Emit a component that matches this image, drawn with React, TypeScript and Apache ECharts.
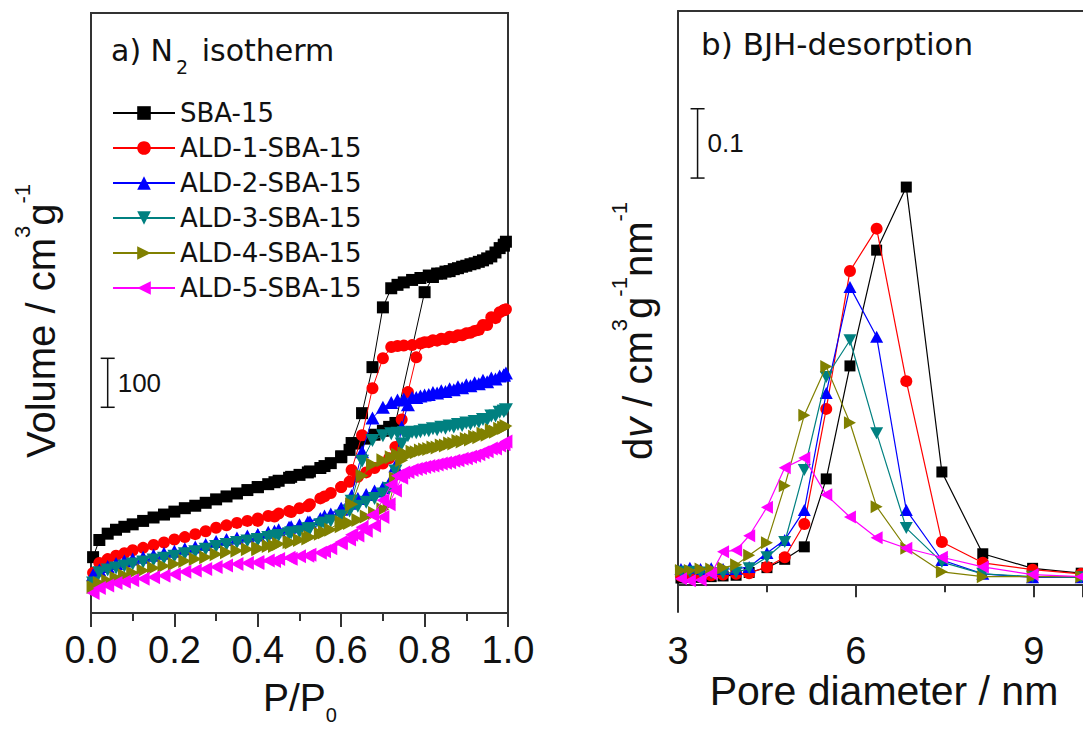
import React, { useEffect, useRef } from 'react';
import * as echarts from 'echarts';

const FONT = '"Liberation Sans", Arial, Helvetica, sans-serif';
const FONT_WIDE = '"DejaVu Sans", Verdana, sans-serif';
const TEXT_COLOR = '#111111';
const AXIS_COLOR = '#333333';

const SERIES_NAMES = ['SBA-15', 'ALD-1-SBA-15', 'ALD-2-SBA-15', 'ALD-3-SBA-15', 'ALD-4-SBA-15', 'ALD-5-SBA-15'];
const COLORS = ['#000000', '#ff0000', '#0000ff', '#008080', '#808000', '#ff00ff'];
const SYMBOLS = [
  'rect',
  'circle',
  'path://M5,0L10,9L0,9Z',
  'path://M0,0L10,0L5,9Z',
  'path://M0,0L9,5L0,10Z',
  'path://M9,0L0,5L9,10Z',
];
const SYMBOL_SIZES_A: any[] = [12, 12, [14, 13], [14, 13], [13, 14], [13, 14]];
const SYMBOL_SIZES_B: any[] = [11, 12, [13, 12], [13, 12], [12, 13], [12, 13]];

// ---- Panel a: N2 isotherms (P/P0, cm3/g) ----
const P_ADS = [0.005, 0.02, 0.04, 0.06, 0.08, 0.10, 0.125, 0.15, 0.175, 0.20, 0.225, 0.25, 0.275, 0.30, 0.325, 0.35, 0.375, 0.40, 0.425, 0.45, 0.475, 0.50, 0.525, 0.55, 0.575, 0.60, 0.62, 0.64, 0.66, 0.68, 0.70, 0.715, 0.73, 0.745, 0.76, 0.78, 0.80, 0.82, 0.84, 0.86, 0.88, 0.90, 0.92, 0.94, 0.96, 0.98, 0.99, 0.995];
const P_DES = [0.99, 0.97, 0.95, 0.93, 0.91, 0.89, 0.87, 0.85, 0.83, 0.81, 0.79, 0.77, 0.75, 0.735, 0.72, 0.70, 0.675, 0.65, 0.625, 0.60, 0.56, 0.52, 0.48, 0.44, 0.40];

const ADS_SBA15 = [114, 149, 162, 170, 176, 181, 188, 195, 201, 207, 214, 219, 225, 232, 238, 244, 251, 257, 263, 270, 276, 282, 289, 296, 306, 318, 333, 346, 356, 364, 372, 380, 388, null, null, null, 655, 686, 693, 698, 704, 709, 714, 720, 728, 745, 752, 758];
const DES_SBA15 = [750, 736, 724, 717, 712, 707, 702, 697, 693, 689, 684, 680, 675, 670, 663, 624, 502, 408, 347, 320, 300, 287, 278, 267, 257];
const ADS_ALD1 = [82, 102, 110, 117, 122, 128, 133, 139, 144, 150, 155, 161, 167, 174, 179, 184, 188, 193, 198, 203, 208, 214, 222, 234, 245, 257, 268, 278, 287, 296, 305, 316, 339, 395, 451, 522, 553, 557, 560, 564, 567, 571, 576, 588, 604, 614, 618, 620];
const DES_ALD1 = [618, 602, 588, 578, 572, 567, 563, 559, 556, 553, 550, 547, 546, 545, 543, 520, 459, 363, 292, 257, 238, 218, 206, 197, 188];
const ADS_ALD2 = [78, 88, 95, 101, 106, 110, 114, 118, 122, 126, 131, 135, 140, 146, 150, 153, 157, 160, 165, 170, 175, 180, 186, 193, 202, 212, 224, 234, 242, 249, 256, 265, 300, 380, 425, 440, 445, 450, 454, 458, 462, 466, 470, 475, 480, 484, 486, 490];
const DES_ALD2 = [486, 478, 472, 468, 464, 460, 456, 452, 449, 446, 443, 440, 437, 435, 430, 420, 398, 329, 240, 214, 198, 186, 176, 167, 160];
const ADS_ALD3 = [61, 82, 88, 92, 96, 100, 104, 108, 112, 116, 121, 125, 130, 136, 140, 144, 147, 150, 154, 158, 162, 166, 172, 180, 188, 196, 208, 218, 226, 234, 243, 254, 290, 345, 362, 368, 373, 376, 379, 382, 385, 388, 391, 395, 402, 410, 412, 415];
const DES_ALD3 = [412, 402, 394, 390, 386, 383, 380, 377, 374, 372, 370, 369, 368, 367, 366, 362, 352, 310, 228, 198, 184, 172, 164, 156, 149];
const ADS_ALD4 = [53, 61, 66, 72, 77, 82, 87, 92, 96, 100, 106, 110, 114, 120, 124, 127, 130, 133, 137, 141, 145, 149, 155, 162, 170, 177, 184, 190, 197, 204, 212, 222, 275, 312, 322, 328, 334, 338, 342, 346, 351, 355, 360, 366, 373, 376, 378, 382];
const DES_ALD4 = [378, 370, 364, 359, 354, 350, 346, 342, 338, 335, 332, 329, 326, 323, 318, 312, 303, 280, 222, 186, 165, 152, 144, 137, 130];
const ADS_ALD5 = [41, 51, 56, 61, 64, 67, 70, 73, 76, 79, 84, 87, 90, 94, 97, 100, 102, 104, 107, 110, 113, 116, 119, 123, 132, 142, 150, 158, 168, 178, 196, 222, 250, 276, 288, 294, 298, 301, 305, 308, 312, 316, 321, 328, 336, 342, 345, 350];
const DES_ALD5 = [345, 336, 330, 324, 319, 315, 311, 307, 303, 300, 296, 292, 287, 280, 262, 230, 200, 175, 160, 145, 126, 117, 111, 106, 102];

const ADS_LIST = [ADS_SBA15, ADS_ALD1, ADS_ALD2, ADS_ALD3, ADS_ALD4, ADS_ALD5];
const DES_LIST = [DES_SBA15, DES_ALD1, DES_ALD2, DES_ALD3, DES_ALD4, DES_ALD5];

// ---- Panel b: BJH desorption (nm, cm3 g-1 nm-1) ----
const D_GRID = [3.05, 3.2, 3.38, 3.56, 3.76, 3.98, 4.2, 4.5, 4.8, 5.13, 5.5, 5.9, 6.35, 6.85, 7.45, 8.14, 8.98, 9.8, 11.0];
const DV_SBA15 = [0.009, 0.010, 0.010, 0.011, 0.012, 0.013, 0.017, 0.024, 0.036, 0.054, 0.152, 0.315, 0.482, 0.573, 0.162, 0.044, 0.023, 0.016, 0.013];
const DV_ALD1 = [0.012, 0.012, 0.013, 0.013, 0.014, 0.015, 0.016, 0.025, 0.039, 0.087, 0.253, 0.452, 0.513, 0.293, 0.061, 0.031, 0.021, 0.015, 0.012];
const DV_ALD2 = [0.022, 0.024, 0.022, 0.023, 0.022, 0.022, 0.025, 0.045, 0.064, 0.107, 0.276, 0.429, 0.357, 0.107, 0.035, 0.015, 0.010, 0.010, 0.010];
const DV_ALD3 = [0.018, 0.018, 0.017, 0.016, 0.016, 0.017, 0.023, 0.039, 0.061, 0.165, 0.299, 0.352, 0.218, 0.081, 0.032, 0.015, 0.011, 0.010, 0.010];
const DV_ALD4 = [0.020, 0.020, 0.022, 0.022, 0.024, 0.028, 0.042, 0.060, 0.142, 0.244, 0.314, 0.233, 0.112, 0.052, 0.018, 0.011, 0.011, 0.011, 0.010];
const DV_ALD5 = [0.008, 0.005, 0.006, 0.015, 0.047, 0.049, 0.070, 0.111, 0.168, 0.182, 0.129, 0.097, 0.067, 0.052, 0.039, 0.025, 0.014, 0.011, 0.010];
const DV_LIST = [DV_SBA15, DV_ALD1, DV_ALD2, DV_ALD3, DV_ALD4, DV_ALD5];

// Scale bars: [x, yStart, yEnd]
const SCALE_A = [0.04, 420, 520];
const SCALE_A_LABEL = '100';
const SCALE_B = [3.33, 0.586, 0.686];
const SCALE_B_LABEL = '0.1';

const pairs = (xs: number[], ys: (number | null)[]) =>
  xs.map((x, i) => [x, ys[i]]).filter((d) => d[1] !== null && d[1] !== undefined);

const scaleBarSeries = (idx: number, bar: number[], label: string, fontSize: number) => ({
  type: 'custom',
  xAxisIndex: idx,
  yAxisIndex: idx,
  silent: true,
  clip: false,
  z: 5,
  data: [bar],
  renderItem: (params: any, api: any) => {
    const p0 = api.coord([api.value(0), api.value(1)]);
    const p1 = api.coord([api.value(0), api.value(2)]);
    const cap = 7;
    const ls = { stroke: '#111', lineWidth: 1.5 };
    return {
      type: 'group',
      children: [
        { type: 'line', shape: { x1: p0[0], y1: p0[1], x2: p1[0], y2: p1[1] }, style: ls },
        { type: 'line', shape: { x1: p0[0] - cap, y1: p0[1], x2: p0[0] + cap, y2: p0[1] }, style: ls },
        { type: 'line', shape: { x1: p1[0] - cap, y1: p1[1], x2: p1[0] + cap, y2: p1[1] }, style: ls },
        {
          type: 'text',
          style: {
            text: label,
            x: p0[0] + 10,
            y: (p0[1] + p1[1]) / 2,
            verticalAlign: 'middle',
            align: 'left',
            fontSize,
            fontFamily: FONT,
            fill: TEXT_COLOR,
          },
        },
      ],
    };
  },
});

export default function App() {
  const ref = useRef<HTMLDivElement>(null);

  useEffect(() => {
    if (!ref.current) return;
    const chart = echarts.init(ref.current, undefined, { renderer: 'svg' });

    const seriesA = SERIES_NAMES.map((name, i) => ({
      name,
      type: 'line',
      xAxisIndex: 0,
      yAxisIndex: 0,
      data: [...pairs(P_ADS, ADS_LIST[i]), ...pairs(P_DES, DES_LIST[i])],
      symbol: SYMBOLS[i],
      symbolSize: SYMBOL_SIZES_A[i],
      showAllSymbol: true,
      color: COLORS[i],
      itemStyle: { color: COLORS[i] },
      lineStyle: { color: COLORS[i], width: 1 },
      z: 2 + i,
    }));

    const seriesB = SERIES_NAMES.map((name, i) => ({
      name,
      type: 'line',
      xAxisIndex: 1,
      yAxisIndex: 1,
      data: pairs(D_GRID, DV_LIST[i]),
      symbol: SYMBOLS[i],
      symbolSize: SYMBOL_SIZES_B[i],
      showAllSymbol: true,
      color: COLORS[i],
      itemStyle: { color: COLORS[i] },
      lineStyle: { color: COLORS[i], width: 1.2 },
      z: 2 + i,
    }));

    const axisLabel = (fmt: (v: number) => string, margin: number, showMax: boolean) => ({
      fontSize: 38,
      fontFamily: FONT,
      color: TEXT_COLOR,
      margin,
      formatter: fmt,
      showMaxLabel: showMax,
    });
    const axisLineStyle = { show: true, lineStyle: { color: AXIS_COLOR, width: 2 } };

    const option: any = {
      animation: false,
      backgroundColor: '#ffffff',
      grid: [
        { left: 91, top: 13, width: 417, height: 600, show: true, borderColor: AXIS_COLOR, borderWidth: 2, backgroundColor: 'transparent', containLabel: false, outerBoundsMode: 'none' },
        { left: 678, top: 11, width: 405, height: 601, show: false, containLabel: false, outerBoundsMode: 'none' },
      ],
      xAxis: [
        {
          type: 'value', gridIndex: 0, min: 0, max: 1, interval: 0.2,
          axisLine: axisLineStyle,
          axisTick: { show: true, inside: false, length: 14, lineStyle: { color: AXIS_COLOR, width: 2 } },
          minorTick: { show: true, splitNumber: 2, length: 8, lineStyle: { color: AXIS_COLOR, width: 2 } },
          splitLine: { show: false },
          axisLabel: axisLabel((v: number) => v.toFixed(1), 18, true),
        },
        {
          type: 'value', gridIndex: 1, min: 3, max: 9.83, interval: 3,
          axisLine: axisLineStyle,
          axisTick: { show: true, inside: false, length: 13, lineStyle: { color: AXIS_COLOR, width: 2 } },
          minorTick: { show: true, splitNumber: 2, length: 8, lineStyle: { color: AXIS_COLOR, width: 2 } },
          splitLine: { show: false },
          axisLabel: axisLabel((v: number) => (Number.isInteger(v) && v % 3 === 0 ? String(v) : ''), 20, false),
        },
        {
          type: 'value', gridIndex: 1, position: 'top', min: 3, max: 9.83,
          axisLine: axisLineStyle,
          axisTick: { show: false }, axisLabel: { show: false }, splitLine: { show: false },
        },
      ],
      yAxis: [
        {
          type: 'value', gridIndex: 0, min: 0, max: 1225,
          axisLine: axisLineStyle,
          axisTick: { show: false }, axisLabel: { show: false }, splitLine: { show: false },
        },
        {
          type: 'value', gridIndex: 1, min: -0.04, max: 0.827,
          axisLine: axisLineStyle,
          axisTick: { show: false }, axisLabel: { show: false }, splitLine: { show: false },
        },
      ],
      legend: {
        data: SERIES_NAMES,
        orient: 'vertical',
        left: 112,
        top: 98,
        padding: 0,
        itemGap: 5,
        itemWidth: 62,
        itemHeight: 17,
        textStyle: { fontSize: 26, lineHeight: 30, fontFamily: FONT_WIDE, color: TEXT_COLOR },
        selectedMode: false,
      },
      graphic: [
        {
          type: 'text', x: 111, y: 50,
          style: {
            text: 'a) N{sub|2} isotherm', fontSize: 30, lineHeight: 52, fontFamily: FONT_WIDE, fill: TEXT_COLOR,
            verticalAlign: 'middle', align: 'left',
            rich: { sub: { fontSize: 19, lineHeight: 16, verticalAlign: 'bottom', fontFamily: FONT_WIDE, fill: TEXT_COLOR, padding: [0, 4, 0, 3] } },
          },
        },
        {
          type: 'text', x: 701, y: 44,
          style: { text: 'b) BJH-desorption', fontSize: 31, fontFamily: FONT_WIDE, fill: TEXT_COLOR, verticalAlign: 'middle', align: 'left' },
        },
        {
          type: 'text', x: 300, y: 697,
          style: {
            text: 'P/P{sub|0}', fontSize: 39, lineHeight: 56, fontFamily: FONT, fill: TEXT_COLOR,
            verticalAlign: 'middle', align: 'center',
            rich: { sub: { fontSize: 20, lineHeight: 16, verticalAlign: 'bottom', fontFamily: FONT, fill: TEXT_COLOR } },
          },
        },
        {
          type: 'text', x: 884, y: 691,
          style: { text: 'Pore diameter / nm', fontSize: 41, fontFamily: FONT, fill: TEXT_COLOR, verticalAlign: 'middle', align: 'center' },
        },
        {
          type: 'text', x: 41, y: 321, rotation: Math.PI / 2,
          style: {
            text: 'Volume / cm{sup|3}g{sup|-1}', fontSize: 40, lineHeight: 60, fontFamily: FONT, fill: TEXT_COLOR,
            verticalAlign: 'middle', align: 'center',
            rich: { sup: { fontSize: 22, lineHeight: 20, verticalAlign: 'top', fontFamily: FONT, fill: TEXT_COLOR } },
          },
        },
        {
          type: 'text', x: 638, y: 331, rotation: Math.PI / 2,
          style: {
            text: 'd{it|v} / cm{sup|3}g{sup|-1}nm{sup|-1}', fontSize: 40, lineHeight: 60, fontFamily: FONT, fill: TEXT_COLOR,
            verticalAlign: 'middle', align: 'center',
            rich: {
              sup: { fontSize: 22, lineHeight: 20, verticalAlign: 'top', fontFamily: FONT, fill: TEXT_COLOR },
              it: { fontSize: 40, lineHeight: 60, fontStyle: 'italic', fontFamily: FONT, fill: TEXT_COLOR },
            },
          },
        },
      ],
      series: [
        ...seriesA,
        ...seriesB,
        scaleBarSeries(0, SCALE_A, SCALE_A_LABEL, 26),
        scaleBarSeries(1, SCALE_B, SCALE_B_LABEL, 26),
      ],
    };

    chart.setOption(option);
    return () => chart.dispose();
  }, []);

  return (
    <div
      ref={ref}
      style={{ position: 'fixed', left: 0, top: 0, width: 1083, height: 730, background: '#fff' }}
    />
  );
}
